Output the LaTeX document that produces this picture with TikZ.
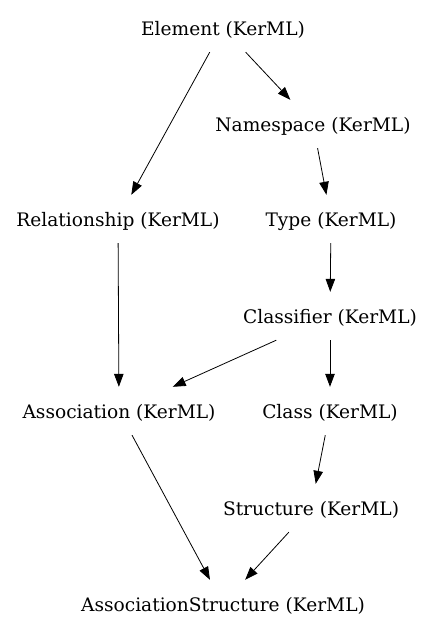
\documentclass[tikz,border=0pt]{standalone}
\usepackage{fontspec}
\setmainfont{DejaVu Serif}
\usetikzlibrary{arrows.meta}
\begin{document}
\begin{tikzpicture}[x=1pt,y=-1pt,
  cls/.style={rectangle,draw=none,inner xsep=2pt,inner ysep=0pt,text height=17pt,text depth=3pt,minimum height=48pt,font=\fontsize{18.6}{20}\selectfont},
  edge/.style={draw=black,line width=0.8pt,-{Triangle[length=13pt,width=9.5pt]}}]
\useasboundingbox (0,0) rectangle (433,635);
\node[cls] (el) at (223,28) {Element (KerML)};
\node[cls] (ns) at (313,124) {Namespace (KerML)};
\node[cls] (rel) at (118,219) {Relationship (KerML)};
\node[cls] (ty) at (331,219) {Type (KerML)};
\node[cls] (cl) at (330,316) {Classifier (KerML)};
\node[cls] (as) at (119,411) {Association (KerML)};
\node[cls] (cs) at (330,411) {Class (KerML)};
\node[cls] (st) at (311,508) {Structure (KerML)};
\node[cls] (ast) at (223,604) {AssociationStructure (KerML)};
\draw[edge] (el) -- (rel);
\draw[edge] (el) -- (ns);
\draw[edge] (ns) -- (ty);
\draw[edge] (rel) -- (as);
\draw[edge] (ty) -- (cl);
\draw[edge] (cl) -- (as);
\draw[edge] (cl) -- (cs);
\draw[edge] (cs) -- (st);
\draw[edge] (as) -- (ast);
\draw[edge] (st) -- (ast);
\end{tikzpicture}
\end{document}
